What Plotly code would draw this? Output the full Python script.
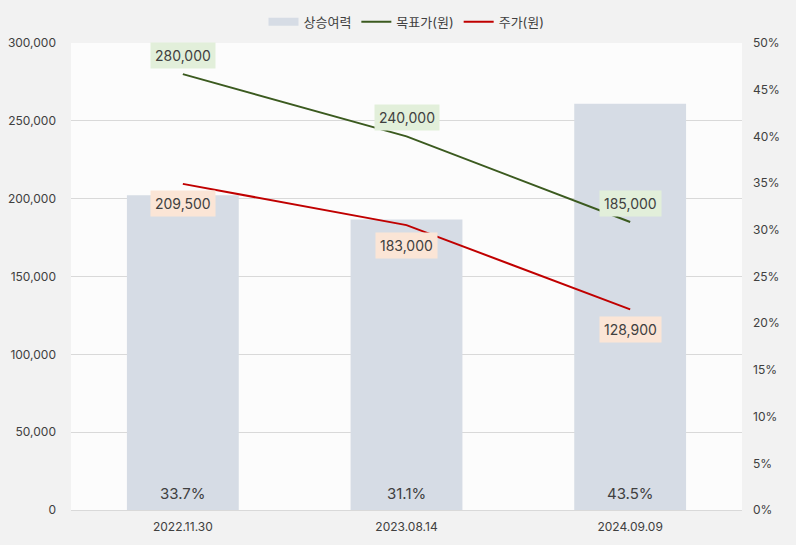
import plotly.graph_objects as go

categories = ["2022.11.30", "2023.08.14", "2024.09.09"]
upside = [33.7, 31.1, 43.5]
target_price = [280000, 240000, 185000]
stock_price = [209500, 183000, 128900]

FONT = "Inter, 'Noto Sans CJK KR', sans-serif"
BAR_COLOR = "#d6dce5"

fig = go.Figure()
# Bars on primary axis (right side), lines on overlaying axis (left) so lines draw on top
fig.add_trace(go.Bar(
    x=categories, y=upside, name="상승여력", yaxis="y",
    marker=dict(color=BAR_COLOR, line=dict(width=0)), width=0.5,
    showlegend=False, hoverinfo="skip",
))
fig.add_trace(go.Scatter(
    x=[None], y=[None], name="상승여력", mode="lines",
    line=dict(color=BAR_COLOR, width=8), yaxis="y",
))
fig.add_trace(go.Scatter(
    x=categories, y=target_price, name="목표가(원)", mode="lines",
    line=dict(color="#3b5a1f", width=2), yaxis="y2",
))
fig.add_trace(go.Scatter(
    x=categories, y=stock_price, name="주가(원)", mode="lines",
    line=dict(color="#c00000", width=2), yaxis="y2",
))

annotations = []
for c, v in zip(categories, upside):
    annotations.append(dict(x=c, y=0, xref="x", yref="y", text=f"{v:.1f}%",
                            showarrow=False, yshift=17,
                            font=dict(size=15, color="#404040", family=FONT)))
for c, v in zip(categories, target_price):
    annotations.append(dict(x=c, y=v, xref="x", yref="y2", text=f"{v:,}",
                            showarrow=False, yshift=19, bgcolor="#e2efda",
                            font=dict(size=14, color="#404040", family=FONT),
                            borderpad=4))
for c, v in zip(categories, stock_price):
    annotations.append(dict(x=c, y=v, xref="x", yref="y2", text=f"{v:,}",
                            showarrow=False, yshift=-20, bgcolor="#fbe5d6",
                            font=dict(size=14, color="#404040", family=FONT),
                            borderpad=4))

fig.update_layout(
    width=796, height=545,
    margin=dict(l=71, r=54, t=43, b=35, autoexpand=False),
    paper_bgcolor="#f2f2f2", plot_bgcolor="#fcfcfc",
    font=dict(family=FONT, size=12, color="#404040"),
    showlegend=True,
    legend=dict(orientation="h", x=0.5, xanchor="center", y=0.96, yanchor="middle",
                yref="container", font=dict(size=13, color="#404040"),
                bgcolor="rgba(0,0,0,0)", traceorder="normal"),
    xaxis=dict(showgrid=False, showline=True, linecolor="#d9d9d9", linewidth=1,
               tickfont=dict(size=12, color="#404040"), ticks="",
               ticklabelstandoff=6),
    yaxis=dict(range=[0, 50], dtick=5, ticksuffix="%", side="right",
               showgrid=False, zeroline=False,
               tickfont=dict(size=12, color="#404040"), ticks="",
               ticklabelstandoff=10),
    yaxis2=dict(range=[0, 300000], dtick=50000, tickformat=",", overlaying="y",
                side="left", showgrid=True, gridcolor="#d9d9d9", gridwidth=1,
                zeroline=False, tickfont=dict(size=12, color="#404040"), ticks="",
                ticklabelstandoff=14),
    annotations=annotations,
)

fig.write_html("out.html")
